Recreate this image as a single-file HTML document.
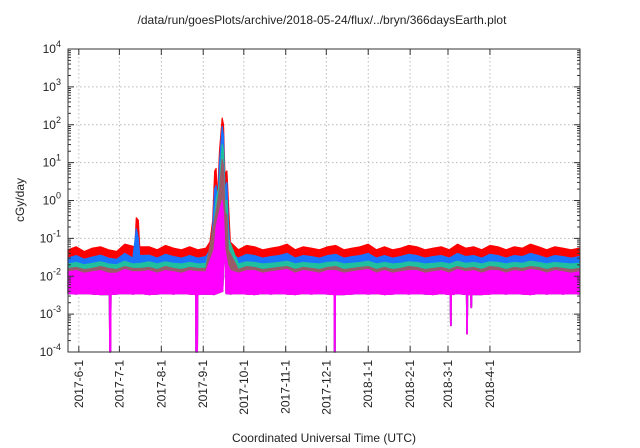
<!DOCTYPE html>
<html><head><meta charset="utf-8"><style>
body{margin:0;background:#fff;}
svg{display:block;font-family:"Liberation Sans",Arial,sans-serif;}
</style></head><body>
<svg id="chart" width="640" height="448" viewBox="0 0 640 448">
<text x="322" y="24" font-size="12" text-anchor="middle" fill="#222">/data/run/goesPlots/archive/2018-05-24/flux/../bryn/366daysEarth.plot</text>
<text transform="translate(24,200) rotate(-90)" font-size="12" text-anchor="middle" fill="#222">cGy/day</text>
<text x="324" y="442" font-size="12" text-anchor="middle" fill="#222">Coordinated Universal Time (UTC)</text>
<g id="grid"></g>
<g id="series"></g>
<g id="axes"></g>
</svg>
<script>
// data (days relative to 2017-06-01, values cGy/day)
const xTickLabels=["2017-6-1","2017-7-1","2017-8-1","2017-9-1","2017-10-1","2017-11-1","2017-12-1","2018-1-1","2018-2-1","2018-3-1","2018-4-1"];
const xTickDays=[0,30,61,92,122,153,183,214,245,273,304];
const yTickExps=[-4,-3,-2,-1,0,1,2,3,4];
const baseStart=-8, baseStep=6;
const redBase=[0.05,0.06,0.045,0.055,0.06,0.05,0.045,0.07,0.05,0.055,0.06,0.05,0.065,0.055,0.05,0.06,
0.05,0.055,0.07,0.06,0.055,0.05,0.065,0.06,0.05,0.055,0.06,0.07,0.05,0.06,0.055,0.05,
0.06,0.065,0.05,0.055,0.06,0.07,0.05,0.06,0.05,0.055,0.065,0.06,0.05,0.055,0.06,0.05,
0.07,0.055,0.06,0.05,0.065,0.06,0.05,0.06,0.055,0.07,0.06,0.05,0.06,0.055,0.05,0.055];
const blueBase=[0.03,0.035,0.028,0.032,0.036,0.03,0.028,0.04,0.03,0.033,0.036,0.03,0.038,0.033,0.03,0.035,
0.03,0.033,0.04,0.035,0.033,0.03,0.038,0.035,0.03,0.033,0.035,0.04,0.03,0.035,0.033,0.03,
0.035,0.038,0.03,0.033,0.035,0.04,0.03,0.035,0.03,0.033,0.038,0.035,0.03,0.033,0.035,0.03,
0.04,0.033,0.035,0.03,0.038,0.035,0.03,0.035,0.033,0.04,0.035,0.03,0.035,0.033,0.03,0.033];
const tealBase=[0.021,0.023,0.02,0.022,0.024,0.021,0.02,0.025,0.021,0.022,0.024,0.021,0.024,0.022,0.021,0.023,
0.021,0.022,0.025,0.023,0.022,0.021,0.024,0.023,0.021,0.022,0.023,0.025,0.021,0.023,0.022,0.021,
0.023,0.024,0.021,0.022,0.023,0.025,0.021,0.023,0.021,0.022,0.024,0.023,0.021,0.022,0.023,0.021,
0.025,0.022,0.023,0.021,0.024,0.023,0.021,0.023,0.022,0.025,0.023,0.021,0.023,0.022,0.021,0.022];
const brownBase=[0.016,0.017,0.015,0.016,0.018,0.016,0.015,0.018,0.016,0.016,0.017,0.015,0.018,0.016,0.015,0.017,
0.016,0.016,0.018,0.017,0.016,0.015,0.018,0.017,0.015,0.016,0.017,0.018,0.015,0.017,0.016,0.015,
0.017,0.018,0.015,0.016,0.017,0.018,0.015,0.017,0.015,0.016,0.018,0.017,0.015,0.016,0.017,0.015,
0.018,0.016,0.017,0.015,0.018,0.017,0.015,0.017,0.016,0.018,0.017,0.015,0.017,0.016,0.015,0.016];
const magTopBase=[0.013,0.014,0.012,0.013,0.014,0.012,0.012,0.015,0.013,0.013,0.014,0.012,0.014,0.013,0.012,0.014,
0.013,0.013,0.015,0.014,0.013,0.012,0.014,0.014,0.012,0.013,0.014,0.015,0.012,0.014,0.013,0.012,
0.014,0.014,0.012,0.013,0.014,0.015,0.012,0.014,0.012,0.013,0.014,0.014,0.012,0.013,0.014,0.012,
0.015,0.013,0.014,0.012,0.014,0.014,0.012,0.014,0.013,0.015,0.014,0.012,0.014,0.013,0.012,0.013];
const bottomBase=[0.0035,0.0034,0.0035,0.0034,0.0033,0.0035,0.0034,0.0035,0.0034,0.0035,0.0033,0.0034,0.0035,0.0034,0.0035,0.0034,
0.0035,0.0034,0.0033,0.0035,0.0034,0.0035,0.0034,0.0033,0.0035,0.0034,0.0035,0.0034,0.0033,0.0035,0.0034,0.0035,
0.0034,0.0035,0.0033,0.0034,0.0035,0.0034,0.0035,0.0033,0.0034,0.0035,0.0034,0.0035,0.0034,0.0033,0.0035,0.0034,
0.0035,0.0034,0.0035,0.0033,0.0034,0.0035,0.0034,0.0035,0.0034,0.0033,0.0035,0.0034,0.0035,0.0034,0.0035,0.0034];
// event points [day, value]
const redEvents=[[41.5,0.06],[42.5,0.35],[44,0.3],[45,0.06],[97,0.08],[99,0.3],[100.5,6],[101.5,7],[102.5,1],[104,20],[106,150],[107,100],[108,5],[109.5,6],[110.5,1],[112,0.08]];
const blueEvents=[[42.5,0.18],[44,0.1],[45,0.035],[97,0.05],[99,0.2],[100.5,2],[101.5,2.5],[102.5,0.5],[104,10],[106,90],[107,50],[108,2],[109.5,3],[110.5,0.3],[112,0.04]];
const tealEvents=[[99,0.1],[101.5,1],[104,3],[106,30],[107,20],[108,1],[109.5,1],[110.5,0.1]];
const brownEvents=[[101.5,0.5],[104,2],[106,12],[107,8],[108,0.5],[109.5,0.4],[110.5,0.05]];
const magTopEvents=[[100,0.05],[101.5,0.2],[104,0.5],[106,1],[107,0.4],[108,0.05],[110,0.02],[112,0.014]];
const bottomEvents=[[22.6,0.0033],[22.8,0.0001],[23.6,0.0001],[23.8,0.0033],[86.4,0.0033],[86.6,0.0001],[87.7,0.0001],[87.9,0.0033],
[188.8,0.0033],[189,0.0001],[189.5,0.0001],[189.7,0.0033],[274.7,0.0033],[274.9,0.0005],[275.3,0.0005],[275.5,0.0033],
[286.7,0.0033],[286.9,0.0003],[287.3,0.0003],[287.5,0.0033],[289.8,0.0033],[290,0.0015],[290.4,0.0015],[290.6,0.0033],
[106.5,0.004],[107.3,0.05],[108.2,0.02],[108.8,0.0035]];

const NS="http://www.w3.org/2000/svg";
const L=68,R=580,T=49,B=352, D0=-8, D1=370.6;
const xs=d=>L+(d-D0)/(D1-D0)*(R-L);
const ys=v=>B-(Math.log10(v)+4)/8*(B-T);
function el(tag,attrs,parent){const e=document.createElementNS(NS,tag);for(const k in attrs)e.setAttribute(k,attrs[k]);parent.appendChild(e);return e;}
function merge(base,events){
  const pts=[];
  base.forEach((v,i)=>{const d=baseStart+i*baseStep;if(!events.some(e=>Math.abs(e[0]-d)<2.5))pts.push([d,v]);});
  events.forEach(e=>pts.push(e));
  pts.sort((a,b)=>a[0]-b[0]);
  return pts;
}
const grid=document.getElementById('grid'),axes=document.getElementById('axes'),series=document.getElementById('series');
yTickExps.forEach(p=>{
  const y=ys(Math.pow(10,p));
  if(p>-4&&p<4){const g=el('line',{x1:L,x2:R,y1:y,y2:y,stroke:'#bbb','stroke-dasharray':'1.5,2.5','stroke-width':1},grid);
  
  }
  const t=el('text',{x:61,y:y+4,'font-size':12,'text-anchor':'end',fill:'#222'},axes);
  
  
  t.textContent='10';
  const s=el('tspan',{dy:-6,'font-size':9},t);s.textContent=String(p);
  [L,R].forEach((x,i)=>{const tk=el('line',{x1:x,x2:x+(i?-6:6),y1:y,y2:y,stroke:'#333'},axes);
    
    });
  if(p<4)for(let m=2;m<10;m++){const yy=ys(m*Math.pow(10,p));[L,R].forEach((x,i)=>{const mk=el('line',{x1:x,x2:x+(i?-3:3),y1:yy,y2:yy,stroke:'#333'},axes);
    
    });}
});
xTickDays.forEach((d,i)=>{
  const x=xs(d);
  const g=el('line',{x1:x,x2:x,y1:T,y2:B,stroke:'#bbb','stroke-dasharray':'1.5,2.5'},grid);
  
  
  [[B,B-6],[T,T+6]].forEach(a=>{const tk=el('line',{x1:x,x2:x,y1:a[0],y2:a[1],stroke:'#333'},axes);
    
    });
  const t=el('text',{transform:`translate(${x+4},360) rotate(-90)`,'font-size':12,'text-anchor':'end',fill:'#222'},axes);
  
  
  t.textContent=xTickLabels[i];
});
const bottomPts=merge(bottomBase,bottomEvents);
const layers=[[redBase,redEvents,'#ff0000','red-band'],[blueBase,blueEvents,'#1a73ff','blue-band'],[tealBase,tealEvents,'#1fbf9f','teal-band'],[brownBase,brownEvents,'#9a5a6a','brown-band'],[magTopBase,magTopEvents,'#ff00ff','magenta-band']];
layers.forEach(ly=>{
  const top=merge(ly[0],ly[1]);
  const pts=top.map(p=>[xs(Math.max(D0,Math.min(D1,p[0]))),ys(p[1])]).concat(bottomPts.slice().reverse().map(p=>[xs(Math.max(D0,Math.min(D1,p[0]))),Math.min(B,ys(p[1]))]));
  const pg=el('polygon',{points:pts.map(p=>p[0].toFixed(1)+','+p[1].toFixed(1)).join(' '),fill:ly[2],stroke:ly[2],'stroke-width':1.2,'stroke-linejoin':'round'},series);
  
  
});
const fr=el('rect',{x:L,y:T,width:R-L,height:B-T,fill:'none',stroke:'#333','stroke-width':1},axes);


</script>
</body></html>
